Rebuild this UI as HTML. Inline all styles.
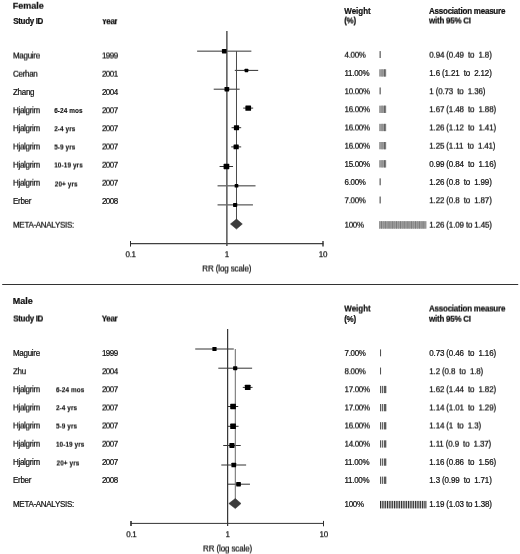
<!DOCTYPE html><html><head><meta charset="utf-8"><title>Forest plot</title><style>
html,body{margin:0;padding:0;background:#fff}
#c{position:relative;width:520px;height:554px;overflow:hidden;background:#fff;font-family:"Liberation Sans",Arial,sans-serif;color:#111;filter:grayscale(1)}
.g{position:absolute;left:0;top:0;width:520px;height:554px}
.g25{filter:url(#f25)}.g50{filter:url(#f50)}.g75{filter:url(#f75)}
.t{position:absolute;white-space:pre;line-height:1;font-size:8px;letter-spacing:-0.3px;-webkit-text-stroke:0.22px #111}
.t i{font-style:normal;display:inline-block;transform:scaleY(1.13);transform-origin:0 84.65%}
.b{font-weight:bold;letter-spacing:-0.34px;-webkit-text-stroke:0.22px #111}
.w9{letter-spacing:-0.24px}
.yr{letter-spacing:-0.5px}
.rr{letter-spacing:-0.12px}
.wt{letter-spacing:-0.02px}
.am{letter-spacing:-0.23px}
.yc i{clip-path:inset(1.75px 0 0 0)}
.as{letter-spacing:-0.15px}
.s{font-size:6.4px;font-weight:bold;letter-spacing:0.1px;color:#111;-webkit-text-stroke:0.12px #111}
.h{font-size:9px;font-weight:bold;letter-spacing:0}
.s i,.h i{transform:none}
svg.p{position:absolute;left:0;top:0}
</style></head><body><div id="c"><svg width="0" height="0" style="position:absolute"><defs><filter id="f25" x="0" y="0" width="100%" height="100%" filterUnits="objectBoundingBox" color-interpolation-filters="sRGB"><feConvolveMatrix order="1 2" kernelMatrix="0.75 0.25" targetX="0" targetY="1" edgeMode="none" preserveAlpha="false" divisor="1"/></filter><filter id="f50" x="0" y="0" width="100%" height="100%" filterUnits="objectBoundingBox" color-interpolation-filters="sRGB"><feConvolveMatrix order="1 2" kernelMatrix="0.5 0.5" targetX="0" targetY="1" edgeMode="none" preserveAlpha="false" divisor="1"/></filter><filter id="f75" x="0" y="0" width="100%" height="100%" filterUnits="objectBoundingBox" color-interpolation-filters="sRGB"><feConvolveMatrix order="1 2" kernelMatrix="0.25 0.75" targetX="0" targetY="1" edgeMode="none" preserveAlpha="false" divisor="1"/></filter></defs></svg><svg class="p" width="520" height="554" viewBox="0 0 520 554"><rect x="379.40" y="51.10" width="1.6" height="6.9" fill="#808080"/><line x1="197.11" y1="51.15" x2="251.36" y2="51.15" stroke="#333" stroke-width="1"/><rect x="379.10" y="69.28" width="7.1" height="7.3" fill="#9c9c9c"/><rect x="381.70" y="69.28" width="0.8" height="7.3" fill="#868686"/><rect x="384.20" y="69.28" width="1.2" height="7.3" fill="#555"/><line x1="234.80" y1="70.40" x2="258.18" y2="70.40" stroke="#333" stroke-width="1"/><rect x="379.40" y="87.46" width="1.6" height="6.9" fill="#808080"/><line x1="213.73" y1="89.20" x2="239.67" y2="89.20" stroke="#333" stroke-width="1"/><rect x="379.10" y="105.64" width="7.1" height="7.3" fill="#9c9c9c"/><rect x="381.70" y="105.64" width="0.8" height="7.3" fill="#868686"/><rect x="384.20" y="105.64" width="1.2" height="7.3" fill="#555"/><line x1="243.20" y1="108.10" x2="253.17" y2="108.10" stroke="#333" stroke-width="1"/><rect x="379.10" y="123.82" width="7.1" height="7.3" fill="#9c9c9c"/><rect x="381.70" y="123.82" width="0.8" height="7.3" fill="#868686"/><rect x="384.20" y="123.82" width="1.2" height="7.3" fill="#555"/><line x1="231.57" y1="127.70" x2="241.18" y2="127.70" stroke="#333" stroke-width="1"/><rect x="379.10" y="142.00" width="7.1" height="7.3" fill="#9c9c9c"/><rect x="381.70" y="142.00" width="0.8" height="7.3" fill="#868686"/><rect x="384.20" y="142.00" width="1.2" height="7.3" fill="#555"/><line x1="231.20" y1="146.90" x2="241.18" y2="146.90" stroke="#333" stroke-width="1"/><rect x="379.10" y="160.18" width="7.1" height="7.3" fill="#9c9c9c"/><rect x="381.70" y="160.18" width="0.8" height="7.3" fill="#868686"/><rect x="384.20" y="160.18" width="1.2" height="7.3" fill="#555"/><line x1="219.58" y1="166.50" x2="233.04" y2="166.50" stroke="#333" stroke-width="1"/><rect x="379.40" y="178.36" width="1.6" height="6.9" fill="#808080"/><line x1="217.55" y1="185.85" x2="255.54" y2="185.85" stroke="#333" stroke-width="1"/><rect x="379.40" y="196.54" width="1.6" height="6.9" fill="#808080"/><line x1="217.55" y1="204.90" x2="252.95" y2="204.90" stroke="#333" stroke-width="1"/><rect x="379.20" y="221.17" width="47.3" height="7.5" fill="#a0a0a0"/><rect x="379.20" y="221.17" width="0.7" height="7.5" fill="#888"/><rect x="381.09" y="221.17" width="0.7" height="7.5" fill="#6a6a6a"/><rect x="382.98" y="221.17" width="0.7" height="7.5" fill="#888"/><rect x="384.88" y="221.17" width="0.7" height="7.5" fill="#6a6a6a"/><rect x="386.77" y="221.17" width="0.7" height="7.5" fill="#888"/><rect x="388.66" y="221.17" width="0.7" height="7.5" fill="#6a6a6a"/><rect x="390.55" y="221.17" width="0.7" height="7.5" fill="#888"/><rect x="392.44" y="221.17" width="0.7" height="7.5" fill="#6a6a6a"/><rect x="394.34" y="221.17" width="0.7" height="7.5" fill="#888"/><rect x="396.23" y="221.17" width="0.7" height="7.5" fill="#6a6a6a"/><rect x="398.12" y="221.17" width="0.7" height="7.5" fill="#888"/><rect x="400.01" y="221.17" width="0.7" height="7.5" fill="#6a6a6a"/><rect x="401.90" y="221.17" width="0.7" height="7.5" fill="#888"/><rect x="403.80" y="221.17" width="0.7" height="7.5" fill="#6a6a6a"/><rect x="405.69" y="221.17" width="0.7" height="7.5" fill="#888"/><rect x="407.58" y="221.17" width="0.7" height="7.5" fill="#6a6a6a"/><rect x="409.47" y="221.17" width="0.7" height="7.5" fill="#888"/><rect x="411.36" y="221.17" width="0.7" height="7.5" fill="#6a6a6a"/><rect x="413.26" y="221.17" width="0.7" height="7.5" fill="#888"/><rect x="415.15" y="221.17" width="0.7" height="7.5" fill="#6a6a6a"/><rect x="417.04" y="221.17" width="0.7" height="7.5" fill="#888"/><rect x="418.93" y="221.17" width="0.7" height="7.5" fill="#6a6a6a"/><rect x="420.82" y="221.17" width="0.7" height="7.5" fill="#888"/><rect x="422.72" y="221.17" width="0.7" height="7.5" fill="#6a6a6a"/><rect x="424.61" y="221.17" width="0.7" height="7.5" fill="#888"/><line x1="236.49" y1="51.15" x2="236.49" y2="224.00" stroke="#4a4a4a" stroke-width="1.0"/><line x1="226.85" y1="31" x2="226.85" y2="246.0" stroke="#686868" stroke-width="1.7"/><line x1="130.10" y1="243.7" x2="323.40" y2="243.7" stroke="#404040" stroke-width="1.2"/><line x1="130.50" y1="241.0" x2="130.50" y2="246.6" stroke="#2c2c2c" stroke-width="1.0"/><line x1="323.00" y1="241.0" x2="323.00" y2="246.6" stroke="#2c2c2c" stroke-width="1.35"/><rect x="380.05" y="349.40" width="1.0" height="6.9" fill="#4a4a4a"/><line x1="195.22" y1="349.00" x2="233.79" y2="349.00" stroke="#333" stroke-width="1"/><rect x="380.05" y="367.55" width="1.0" height="6.9" fill="#4a4a4a"/><line x1="218.30" y1="368.20" x2="252.11" y2="368.20" stroke="#333" stroke-width="1"/><rect x="380.00" y="385.90" width="6.3" height="7.2" fill="#e8e8e8"/><rect x="380.00" y="385.90" width="1.0" height="7.2" fill="#555"/><rect x="381.90" y="385.90" width="1.0" height="7.2" fill="#555"/><rect x="383.90" y="385.90" width="2.4" height="7.2" fill="#5c5c5c"/><line x1="242.80" y1="387.40" x2="252.57" y2="387.40" stroke="#333" stroke-width="1"/><rect x="380.00" y="404.05" width="6.3" height="7.2" fill="#e8e8e8"/><rect x="380.00" y="404.05" width="1.0" height="7.2" fill="#555"/><rect x="381.90" y="404.05" width="1.0" height="7.2" fill="#555"/><rect x="383.90" y="404.05" width="2.4" height="7.2" fill="#5c5c5c"/><line x1="228.01" y1="406.50" x2="238.22" y2="406.50" stroke="#333" stroke-width="1"/><rect x="380.00" y="422.20" width="6.3" height="7.2" fill="#e8e8e8"/><rect x="380.00" y="422.20" width="1.0" height="7.2" fill="#555"/><rect x="381.90" y="422.20" width="1.0" height="7.2" fill="#555"/><rect x="383.90" y="422.20" width="2.4" height="7.2" fill="#5c5c5c"/><line x1="227.60" y1="426.30" x2="238.54" y2="426.30" stroke="#333" stroke-width="1"/><rect x="380.00" y="440.35" width="6.3" height="7.2" fill="#e8e8e8"/><rect x="380.00" y="440.35" width="1.0" height="7.2" fill="#555"/><rect x="381.90" y="440.35" width="1.0" height="7.2" fill="#555"/><rect x="383.90" y="440.35" width="2.4" height="7.2" fill="#5c5c5c"/><line x1="223.21" y1="445.50" x2="240.73" y2="445.50" stroke="#333" stroke-width="1"/><rect x="380.00" y="458.50" width="6.3" height="7.2" fill="#e8e8e8"/><rect x="380.00" y="458.50" width="1.0" height="7.2" fill="#555"/><rect x="381.90" y="458.50" width="1.0" height="7.2" fill="#555"/><rect x="383.90" y="458.50" width="2.4" height="7.2" fill="#5c5c5c"/><line x1="221.31" y1="465.00" x2="246.14" y2="465.00" stroke="#333" stroke-width="1"/><rect x="380.00" y="476.65" width="6.3" height="7.2" fill="#e8e8e8"/><rect x="380.00" y="476.65" width="1.0" height="7.2" fill="#555"/><rect x="381.90" y="476.65" width="1.0" height="7.2" fill="#555"/><rect x="383.90" y="476.65" width="2.4" height="7.2" fill="#5c5c5c"/><line x1="227.18" y1="484.20" x2="249.97" y2="484.20" stroke="#333" stroke-width="1"/><rect x="380.00" y="500.90" width="46.4" height="7.5" fill="#f6f6f6"/><rect x="380.00" y="500.90" width="0.9" height="7.5" fill="#161616"/><rect x="381.75" y="500.90" width="0.9" height="7.5" fill="#161616"/><rect x="383.50" y="500.90" width="0.9" height="7.5" fill="#161616"/><rect x="385.24" y="500.90" width="0.9" height="7.5" fill="#161616"/><rect x="386.99" y="500.90" width="0.9" height="7.5" fill="#161616"/><rect x="388.74" y="500.90" width="0.9" height="7.5" fill="#161616"/><rect x="390.49" y="500.90" width="0.9" height="7.5" fill="#161616"/><rect x="392.23" y="500.90" width="0.9" height="7.5" fill="#161616"/><rect x="393.98" y="500.90" width="0.9" height="7.5" fill="#161616"/><rect x="395.73" y="500.90" width="0.9" height="7.5" fill="#161616"/><rect x="397.48" y="500.90" width="0.9" height="7.5" fill="#161616"/><rect x="399.22" y="500.90" width="0.9" height="7.5" fill="#161616"/><rect x="400.97" y="500.90" width="0.9" height="7.5" fill="#161616"/><rect x="402.72" y="500.90" width="0.9" height="7.5" fill="#161616"/><rect x="404.47" y="500.90" width="0.9" height="7.5" fill="#161616"/><rect x="406.21" y="500.90" width="0.9" height="7.5" fill="#161616"/><rect x="407.96" y="500.90" width="0.9" height="7.5" fill="#161616"/><rect x="409.71" y="500.90" width="0.9" height="7.5" fill="#161616"/><rect x="411.46" y="500.90" width="0.9" height="7.5" fill="#161616"/><rect x="413.21" y="500.90" width="0.9" height="7.5" fill="#161616"/><rect x="414.95" y="500.90" width="0.9" height="7.5" fill="#161616"/><rect x="416.70" y="500.90" width="0.9" height="7.5" fill="#161616"/><rect x="418.45" y="500.90" width="0.9" height="7.5" fill="#161616"/><rect x="420.20" y="500.90" width="0.9" height="7.5" fill="#161616"/><rect x="421.94" y="500.90" width="0.9" height="7.5" fill="#161616"/><rect x="423.69" y="500.90" width="0.9" height="7.5" fill="#161616"/><rect x="425.44" y="500.90" width="0.9" height="7.5" fill="#161616"/><line x1="235.30" y1="349.00" x2="235.30" y2="503.50" stroke="#6a6a6a" stroke-width="1.0"/><line x1="227.60" y1="329" x2="227.60" y2="526.0" stroke="#383838" stroke-width="1.25"/><line x1="130.60" y1="523.4" x2="323.90" y2="523.4" stroke="#333" stroke-width="1.0"/><line x1="131.00" y1="521.1" x2="131.00" y2="525.9" stroke="#2c2c2c" stroke-width="1.6"/><line x1="323.50" y1="520.9" x2="323.50" y2="526.3" stroke="#2c2c2c" stroke-width="1.0"/><rect x="221.92" y="48.92" width="4.7" height="4.46" rx="0.6" fill="#000"/><rect x="244.60" y="68.64" width="3.7" height="3.52" rx="0.6" fill="#000"/><rect x="224.50" y="86.97" width="4.7" height="4.46" rx="0.6" fill="#000"/><rect x="245.38" y="105.39" width="5.7" height="5.42" rx="0.6" fill="#000"/><rect x="233.89" y="125.23" width="5.2" height="4.94" rx="0.6" fill="#000"/><rect x="233.55" y="144.43" width="5.2" height="4.94" rx="0.6" fill="#000"/><rect x="223.58" y="163.79" width="5.7" height="5.42" rx="0.6" fill="#000"/><rect x="234.64" y="184.09" width="3.7" height="3.52" rx="0.6" fill="#000"/><rect x="233.04" y="202.91" width="4.2" height="3.99" rx="0.6" fill="#000"/><polygon points="230.44,224 236.49,219.0 242.34,224 236.49,229.1" fill="#3c3c3c" stroke="#2a2a2a" stroke-width="0.5"/><rect x="212.38" y="347.00" width="4.2" height="3.99" rx="0.6" fill="#000"/><rect x="233.10" y="366.20" width="4.2" height="3.99" rx="0.6" fill="#000"/><rect x="244.86" y="384.69" width="5.7" height="5.42" rx="0.6" fill="#000"/><rect x="230.21" y="403.79" width="5.7" height="5.42" rx="0.6" fill="#000"/><rect x="230.21" y="423.59" width="5.7" height="5.42" rx="0.6" fill="#000"/><rect x="229.35" y="443.03" width="5.2" height="4.94" rx="0.6" fill="#000"/><rect x="231.44" y="462.77" width="4.7" height="4.46" rx="0.6" fill="#000"/><rect x="236.19" y="481.97" width="4.7" height="4.46" rx="0.6" fill="#000"/><polygon points="228.83,503.5 235.30,498.5 241.03,503.5 235.30,508.6" fill="#3c3c3c" stroke="#2a2a2a" stroke-width="0.5"/><line x1="2.2" y1="284.45" x2="518.2" y2="284.45" stroke="#333" stroke-width="1.05"/></svg><div class="g g0"><div class="t b" style="left:13.3px;top:18px"><i>Study ID</i></div><div class="t b wt" style="left:344.3px;top:8px"><i>Weight</i></div><div class="t b am" style="left:429px;top:8px"><i>Association measure</i></div><div class="t " style="left:344.5px;top:70px"><i>11.00%</i></div><div class="t as" style="left:429.3px;top:70px"><i>1.6 (1.21  to  2.12)</i></div><div class="t " style="left:13px;top:89px"><i>Zhang</i></div><div class="t yr" style="left:101.9px;top:89px"><i>2004</i></div><div class="t s" style="left:54.2px;top:108px"><i>6-24 mos</i></div><div class="t " style="left:344.5px;top:161px"><i>15.00%</i></div><div class="t as" style="left:429.3px;top:161px"><i>0.99 (0.84  to  1.16)</i></div><div class="t " style="left:344.5px;top:179px"><i>6.00%</i></div><div class="t as" style="left:429.3px;top:179px"><i>1.26 (0.8  to  1.99)</i></div><div class="t " style="left:13px;top:198px"><i>Erber</i></div><div class="t yr" style="left:101.9px;top:198px"><i>2008</i></div><div class="t h" style="left:12.7px;top:297px"><i>Male</i></div><div class="t b" style="left:344.3px;top:316px"><i>(%)</i></div><div class="t " style="left:13px;top:350px"><i>Maguire</i></div><div class="t yr" style="left:101.9px;top:350px"><i>1999</i></div><div class="t " style="left:344.5px;top:350px"><i>7.00%</i></div><div class="t as" style="left:429.3px;top:350px"><i>0.73 (0.46  to  1.16)</i></div><div class="t " style="left:13px;top:459px"><i>Hjalgrim</i></div><div class="t yr" style="left:101.9px;top:459px"><i>2007</i></div><div class="t " style="left:344.5px;top:459px"><i>11.00%</i></div><div class="t as" style="left:429.3px;top:459px"><i>1.16 (0.86  to  1.56)</i></div><div class="t " style="left:13px;top:477px"><i>Erber</i></div><div class="t yr" style="left:101.9px;top:477px"><i>2008</i></div><div class="t " style="left:344.5px;top:477px"><i>11.00%</i></div><div class="t as" style="left:429.3px;top:477px"><i>1.3 (0.99  to  1.71)</i></div><div class="t " style="left:13px;top:501px"><i>META-ANALYSIS:</i></div><div class="t " style="left:344.5px;top:501px"><i>100%</i></div><div class="t as" style="left:429.3px;top:501px"><i>1.19 (1.03 to 1.38)</i></div></div><div class="g g25"><div class="t b yc" style="left:101.8px;top:18px"><i>Year</i></div><div class="t " style="left:344.5px;top:88px"><i>10.00%</i></div><div class="t as" style="left:429.3px;top:88px"><i>1 (0.73  to  1.36)</i></div><div class="t " style="left:13px;top:107px"><i>Hjalgrim</i></div><div class="t yr" style="left:101.9px;top:107px"><i>2007</i></div><div class="t " style="left:344.5px;top:106px"><i>16.00%</i></div><div class="t as" style="left:429.3px;top:106px"><i>1.67 (1.48  to  1.88)</i></div><div class="t " style="left:13px;top:125px"><i>Hjalgrim</i></div><div class="t s" style="left:54.2px;top:126px"><i>2-4 yrs</i></div><div class="t yr" style="left:101.9px;top:125px"><i>2007</i></div><div class="t " style="left:344.5px;top:197px"><i>7.00%</i></div><div class="t as" style="left:429.3px;top:197px"><i>1.22 (0.8  to  1.87)</i></div><div class="t " style="left:125.55px;top:251px"><i>0.1</i></div><div class="t " style="left:224.85px;top:251px"><i>1</i></div><div class="t " style="left:318.85px;top:251px"><i>10</i></div><div class="t " style="left:13px;top:368px"><i>Zhu</i></div><div class="t yr" style="left:101.9px;top:368px"><i>2004</i></div><div class="t " style="left:344.5px;top:368px"><i>8.00%</i></div><div class="t as" style="left:429.3px;top:368px"><i>1.2 (0.8  to  1.8)</i></div><div class="t " style="left:13px;top:386px"><i>Hjalgrim</i></div><div class="t s" style="left:55.9px;top:387px"><i>6-24 mos</i></div><div class="t yr" style="left:101.9px;top:386px"><i>2007</i></div><div class="t " style="left:344.5px;top:386px"><i>17.00%</i></div><div class="t as" style="left:429.3px;top:386px"><i>1.62 (1.44  to  1.82)</i></div><div class="t s" style="left:55.9px;top:405px"><i>2-4 yrs</i></div><div class="t " style="left:126.3px;top:531px"><i>0.1</i></div><div class="t " style="left:225.6px;top:531px"><i>1</i></div><div class="t " style="left:319.6px;top:531px"><i>10</i></div></div><div class="g g50"><div class="t b" style="left:344.3px;top:17px"><i>(%)</i></div><div class="t b w9" style="left:429px;top:17px"><i>with 95% CI</i></div><div class="t " style="left:13px;top:52px"><i>Maguire</i></div><div class="t yr" style="left:101.9px;top:52px"><i>1999</i></div><div class="t " style="left:344.5px;top:124px"><i>16.00%</i></div><div class="t as" style="left:429.3px;top:124px"><i>1.26 (1.12  to  1.41)</i></div><div class="t " style="left:13px;top:143px"><i>Hjalgrim</i></div><div class="t s" style="left:54.2px;top:144px"><i>5-9 yrs</i></div><div class="t yr" style="left:101.9px;top:143px"><i>2007</i></div><div class="t s" style="left:54.2px;top:162px"><i>10-19 yrs</i></div><div class="t s" style="left:54.800000000000004px;top:181px"><i>20+ yrs</i></div><div class="t rr" style="left:202.35px;top:265px"><i>RR (log scale)</i></div><div class="t b" style="left:13.3px;top:315px"><i>Study ID</i></div><div class="t b" style="left:101.8px;top:315px"><i>Year</i></div><div class="t b wt" style="left:344.3px;top:305px"><i>Weight</i></div><div class="t b am" style="left:429px;top:305px"><i>Association measure</i></div><div class="t " style="left:13px;top:404px"><i>Hjalgrim</i></div><div class="t yr" style="left:101.9px;top:404px"><i>2007</i></div><div class="t " style="left:344.5px;top:404px"><i>17.00%</i></div><div class="t as" style="left:429.3px;top:404px"><i>1.14 (1.01  to  1.29)</i></div><div class="t " style="left:13px;top:422px"><i>Hjalgrim</i></div><div class="t s" style="left:55.9px;top:423px"><i>5-9 yrs</i></div><div class="t yr" style="left:101.9px;top:422px"><i>2007</i></div><div class="t " style="left:344.5px;top:422px"><i>16.00%</i></div><div class="t as" style="left:429.3px;top:422px"><i>1.14 (1  to  1.3)</i></div><div class="t s" style="left:56.5px;top:460px"><i>20+ yrs</i></div><div class="t rr" style="left:203.1px;top:545px"><i>RR (log scale)</i></div></div><div class="g g75"><div class="t h" style="left:12.7px;top:1px"><i>Female</i></div><div class="t " style="left:344.5px;top:51px"><i>4.00%</i></div><div class="t as" style="left:429.3px;top:51px"><i>0.94 (0.49  to  1.8)</i></div><div class="t " style="left:13px;top:70px"><i>Cerhan</i></div><div class="t yr" style="left:101.9px;top:70px"><i>2001</i></div><div class="t " style="left:344.5px;top:142px"><i>16.00%</i></div><div class="t as" style="left:429.3px;top:142px"><i>1.25 (1.11  to  1.41)</i></div><div class="t " style="left:13px;top:161px"><i>Hjalgrim</i></div><div class="t yr" style="left:101.9px;top:161px"><i>2007</i></div><div class="t " style="left:13px;top:179px"><i>Hjalgrim</i></div><div class="t yr" style="left:101.9px;top:179px"><i>2007</i></div><div class="t " style="left:13px;top:221px"><i>META-ANALYSIS:</i></div><div class="t " style="left:344.5px;top:221px"><i>100%</i></div><div class="t as" style="left:429.3px;top:221px"><i>1.26 (1.09 to 1.45)</i></div><div class="t b w9" style="left:429px;top:315px"><i>with 95% CI</i></div><div class="t " style="left:13px;top:440px"><i>Hjalgrim</i></div><div class="t s" style="left:55.9px;top:441px"><i>10-19 yrs</i></div><div class="t yr" style="left:101.9px;top:440px"><i>2007</i></div><div class="t " style="left:344.5px;top:440px"><i>14.00%</i></div><div class="t as" style="left:429.3px;top:440px"><i>1.11 (0.9  to  1.37)</i></div></div></div></body></html>
